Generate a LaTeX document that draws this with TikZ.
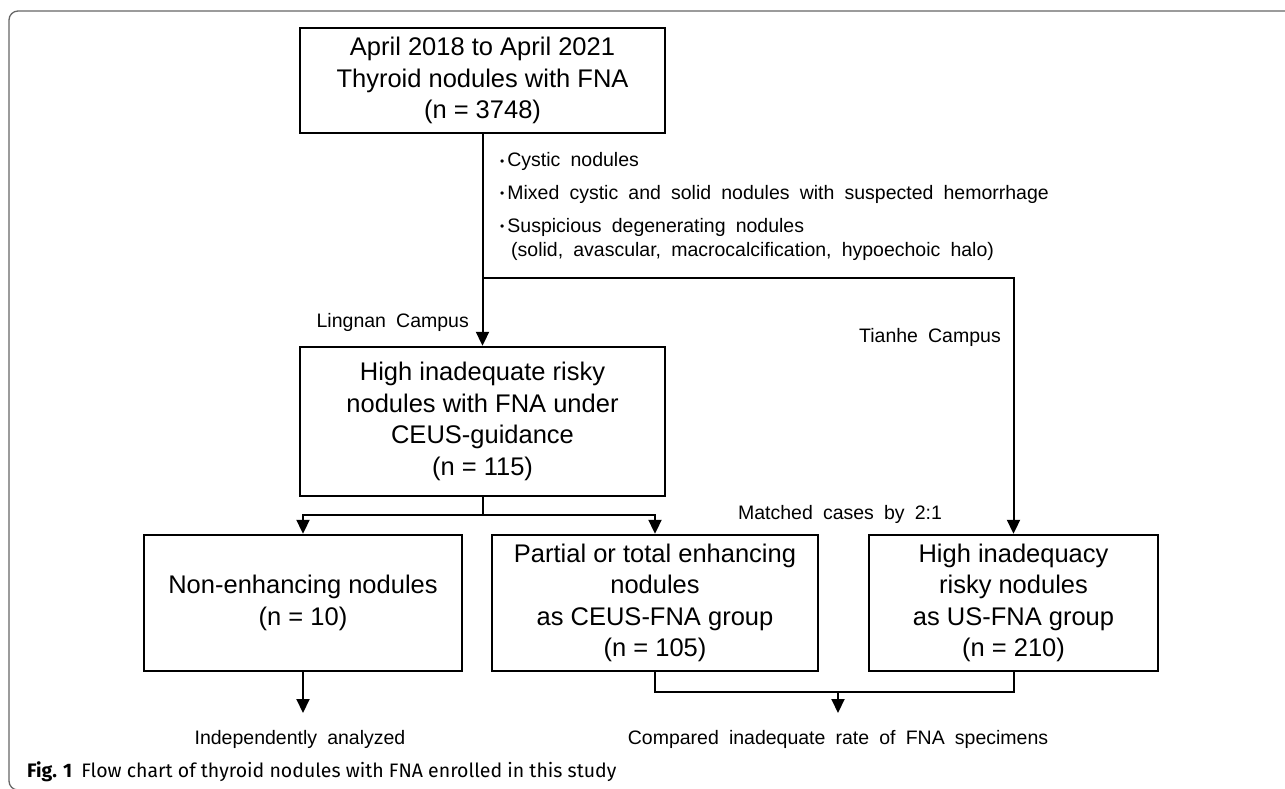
\documentclass[tikz,border=0pt]{standalone}
\usepackage{fontspec}
\setmainfont{Liberation Sans}
\newfontfamily\capfont{Fira Sans}
\usetikzlibrary{arrows.meta}
\newcommand\widespaces{\spaceskip 0.52em plus 0.1em\relax}
\newcommand\smallbul{{\fontsize{12}{12}\selectfont\raisebox{1.5pt}{•}}\hspace{3pt}}
\begin{document}
\begin{tikzpicture}[x=1pt,y=-1pt,
  box/.style={draw, line width=2.4pt, inner sep=0pt, align=center,
    font=\fontsize{25.5}{31.5}\selectfont},
  conn/.style={line width=2pt},
  arr/.style={conn, -{Triangle[length=14pt,width=13pt]}},
  lab/.style={inner sep=0pt, font=\fontsize{19.5}{24}\selectfont\widespaces},
  frame/.style={draw=black!60, line width=1.3pt, rounded corners=9pt}
]
\useasboundingbox (0,0) rectangle (1285,789);
\draw[frame] (1300,11) -- (9,11) -- (9,790) -- (40,790);

% boxes
\node[box, minimum width=365pt, minimum height=105pt] (b1) at (482.5,80.5)
  {April 2018 to April 2021\\Thyroid nodules with FNA\\(n = 3748)};
\node[box, minimum width=365pt, minimum height=149pt] (b2) at (482.5,421.5)
  {High inadequate risky\\nodules with FNA under\\CEUS-guidance\\(n = 115)};
\node[box, minimum width=318pt, minimum height=136pt] (b3) at (303,603)
  {Non-enhancing nodules\\(n = 10)};
\node[box, minimum width=326pt, minimum height=136pt] (b4) at (655,603)
  {Partial or total enhancing\\nodules\\as CEUS-FNA group\\(n = 105)};
\node[box, minimum width=289pt, minimum height=136pt] (b5) at (1013.5,603)
  {High inadequacy\\risky nodules\\as US-FNA group\\(n = 210)};

% exclusion criteria
\node[lab, anchor=base west] (c1) at (500,167) {\smallbul Cystic nodules};
\node[lab, anchor=base west] (c2) at (500,199) {\smallbul Mixed cystic and solid nodules with suspected hemorrhage};
\node[lab, anchor=base west] (c3) at (500,232) {\smallbul Suspicious degenerating nodules};
\node[lab, anchor=base west] (c4) at (511,256) {(solid, avascular, macrocalcification, hypoechoic halo)};

% connectors
\coordinate (j1) at (482.5,278);
\draw[arr] (b1.south) -- (b2.north);
\draw[arr] (j1) -| (b5.north);
\node[lab, anchor=base east] (l1) at (469,327) {Lingnan Campus};
\node[lab, anchor=base east] (l2) at (1001,342) {Tianhe Campus};

\coordinate (j2) at (482.5,515);
\draw[conn] (b2.south) -- (j2);
\draw[arr] (j2) -| (b3.north);
\draw[arr] (j2) -| (b4.north);
\node[lab, anchor=base] (l3) at (840,519) {Matched cases by 2:1};

\coordinate (e3) at (303,713);
\draw[arr] (b3.south) -- (e3);
\node[lab, anchor=base] (o1) at (300,744) {Independently analyzed};

\coordinate (j3) at (838,692);
\coordinate (e4) at (838,713);
\draw[conn] (b4.south) |- (j3) -| (b5.south);
\draw[arr] (j3) -- (e4);
\node[lab, anchor=base] (o2) at (838,744) {Compared inadequate rate of FNA specimens};

% caption
\node[inner sep=0pt, anchor=base west, font=\capfont\fontsize{19.5}{23}\selectfont] (cap) at (27,777)
  {\textbf{Fig. 1}\hspace{9pt}Flow chart of thyroid nodules with FNA enrolled in this study};
\end{tikzpicture}
\end{document}
